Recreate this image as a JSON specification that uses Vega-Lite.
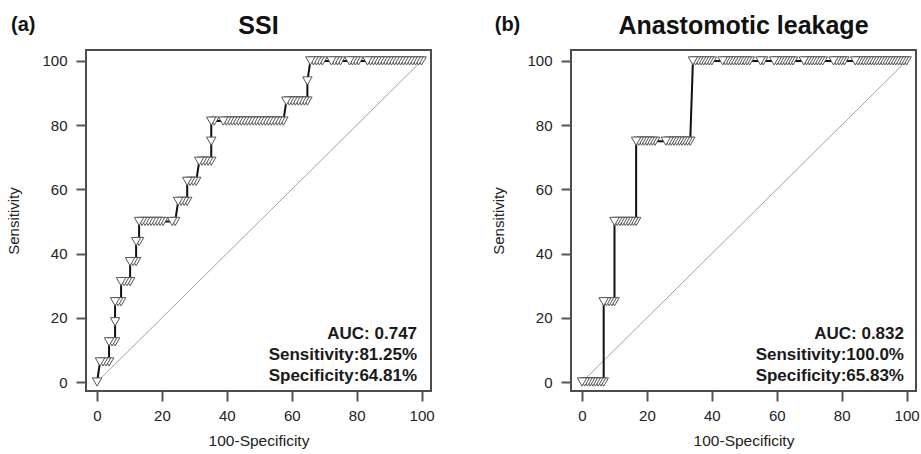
{
  "$schema": "https://vega.github.io/schema/vega-lite/v6.json",
  "padding": {"left": 5, "top": 12, "right": 4, "bottom": 4},
  "spacing": 140,
  "bounds": "flush",
  "config": {
    "font": "Liberation Sans",
    "view": {"stroke": "#4d4d4d", "strokeWidth": 2},
    "axis": {
      "domain": false, "grid": false, "tickColor": "#555555",
      "labelFont": "Liberation Sans", "labelFontSize": 15, "labelColor": "#222222",
      "titleFont": "Liberation Sans", "titleFontSize": 15, "titleFontWeight": "normal", "titleColor": "#222222",
      "labelOverlap": false, "labelFlush": false
    }
  },
  "datasets": {
    "ssi": [
      {"x":0,"y":0},
      {"x":0.93,"y":6.25},{"x":1.85,"y":6.25},{"x":2.78,"y":6.25},{"x":3.7,"y":6.25},
      {"x":3.7,"y":12.5},{"x":4.63,"y":12.5},{"x":5.56,"y":12.5},
      {"x":5.56,"y":18.75},
      {"x":5.56,"y":25},{"x":6.48,"y":25},{"x":7.41,"y":25},
      {"x":7.41,"y":31.25},{"x":8.33,"y":31.25},{"x":9.26,"y":31.25},{"x":10.19,"y":31.25},
      {"x":10.19,"y":37.5},{"x":11.11,"y":37.5},{"x":12.04,"y":37.5},
      {"x":12.04,"y":43.75},{"x":12.96,"y":43.75},
      {"x":12.96,"y":50},{"x":13.89,"y":50},{"x":14.81,"y":50},{"x":15.74,"y":50},{"x":16.67,"y":50},{"x":17.59,"y":50},{"x":18.52,"y":50},{"x":19.44,"y":50},{"x":20.37,"y":50},{"x":23.15,"y":50},{"x":24.07,"y":50},
      {"x":25,"y":56.25},{"x":25.93,"y":56.25},{"x":26.85,"y":56.25},{"x":27.78,"y":56.25},
      {"x":27.78,"y":62.5},{"x":28.7,"y":62.5},{"x":29.63,"y":62.5},{"x":30.56,"y":62.5},
      {"x":31.48,"y":68.75},{"x":32.41,"y":68.75},{"x":33.33,"y":68.75},{"x":34.26,"y":68.75},{"x":35.19,"y":68.75},
      {"x":35.19,"y":75},
      {"x":35.19,"y":81.25},{"x":36.11,"y":81.25},{"x":38.89,"y":81.25},{"x":39.81,"y":81.25},{"x":40.74,"y":81.25},{"x":41.67,"y":81.25},{"x":42.59,"y":81.25},{"x":43.52,"y":81.25},{"x":44.44,"y":81.25},{"x":45.37,"y":81.25},{"x":46.3,"y":81.25},{"x":47.22,"y":81.25},{"x":48.15,"y":81.25},{"x":49.07,"y":81.25},{"x":50,"y":81.25},{"x":50.93,"y":81.25},{"x":51.85,"y":81.25},{"x":52.78,"y":81.25},{"x":53.7,"y":81.25},{"x":54.63,"y":81.25},{"x":55.56,"y":81.25},{"x":56.48,"y":81.25},{"x":57.41,"y":81.25},
      {"x":58.33,"y":87.5},{"x":59.26,"y":87.5},{"x":60.19,"y":87.5},{"x":61.11,"y":87.5},{"x":62.04,"y":87.5},{"x":62.96,"y":87.5},{"x":63.89,"y":87.5},{"x":64.81,"y":87.5},
      {"x":64.81,"y":93.75},
      {"x":65.74,"y":100},{"x":66.67,"y":100},{"x":67.59,"y":100},{"x":68.52,"y":100},{"x":69.44,"y":100},{"x":72.22,"y":100},{"x":73.15,"y":100},{"x":74.07,"y":100},{"x":75,"y":100},{"x":77.78,"y":100},{"x":78.7,"y":100},{"x":79.63,"y":100},{"x":80.56,"y":100},{"x":83.33,"y":100},{"x":84.26,"y":100},{"x":85.19,"y":100},{"x":86.11,"y":100},{"x":87.04,"y":100},{"x":87.96,"y":100},{"x":88.89,"y":100},{"x":89.81,"y":100},{"x":90.74,"y":100},{"x":91.67,"y":100},{"x":92.59,"y":100},{"x":93.52,"y":100},{"x":94.44,"y":100},{"x":95.37,"y":100},{"x":96.3,"y":100},{"x":97.22,"y":100},{"x":98.15,"y":100},{"x":99.07,"y":100},{"x":100,"y":100}
    ],
    "al": [
      {"x":0,"y":0},{"x":0.83,"y":0},{"x":1.67,"y":0},{"x":2.5,"y":0},{"x":3.33,"y":0},{"x":4.17,"y":0},{"x":5,"y":0},{"x":5.83,"y":0},{"x":6.67,"y":0},
      {"x":6.67,"y":25},{"x":7.5,"y":25},{"x":8.33,"y":25},{"x":9.17,"y":25},{"x":10,"y":25},
      {"x":10,"y":50},{"x":10.83,"y":50},{"x":11.67,"y":50},{"x":12.5,"y":50},{"x":13.33,"y":50},{"x":14.17,"y":50},{"x":15,"y":50},{"x":15.83,"y":50},{"x":16.67,"y":50},
      {"x":16.67,"y":75},{"x":17.5,"y":75},{"x":18.33,"y":75},{"x":19.17,"y":75},{"x":20,"y":75},{"x":20.83,"y":75},{"x":21.67,"y":75},{"x":22.5,"y":75},{"x":25.83,"y":75},{"x":26.67,"y":75},{"x":27.5,"y":75},{"x":28.33,"y":75},{"x":29.17,"y":75},{"x":30,"y":75},{"x":30.83,"y":75},{"x":31.67,"y":75},{"x":32.5,"y":75},{"x":33.33,"y":75},
      {"x":34.17,"y":100},{"x":35,"y":100},{"x":35.83,"y":100},{"x":36.67,"y":100},{"x":37.5,"y":100},{"x":38.33,"y":100},{"x":39.17,"y":100},{"x":40,"y":100},
      {"x":43.33,"y":100},{"x":44.17,"y":100},{"x":45,"y":100},{"x":45.83,"y":100},{"x":46.67,"y":100},{"x":47.5,"y":100},{"x":48.33,"y":100},{"x":49.17,"y":100},{"x":50,"y":100},{"x":50.83,"y":100},{"x":51.67,"y":100},
      {"x":55,"y":100},{"x":55.83,"y":100},
      {"x":59.17,"y":100},{"x":60,"y":100},{"x":60.83,"y":100},{"x":61.67,"y":100},{"x":62.5,"y":100},{"x":63.33,"y":100},{"x":64.17,"y":100},{"x":65,"y":100},
      {"x":68.33,"y":100},{"x":69.17,"y":100},{"x":70,"y":100},{"x":70.83,"y":100},{"x":71.67,"y":100},{"x":72.5,"y":100},{"x":73.33,"y":100},{"x":74.17,"y":100},
      {"x":77.5,"y":100},{"x":78.33,"y":100},{"x":79.17,"y":100},{"x":80,"y":100},{"x":80.83,"y":100},
      {"x":84.17,"y":100},{"x":85,"y":100},{"x":85.83,"y":100},{"x":86.67,"y":100},{"x":87.5,"y":100},{"x":88.33,"y":100},{"x":89.17,"y":100},{"x":90,"y":100},{"x":90.83,"y":100},{"x":91.67,"y":100},{"x":92.5,"y":100},{"x":93.33,"y":100},{"x":94.17,"y":100},{"x":95,"y":100},{"x":95.83,"y":100},{"x":96.67,"y":100},{"x":97.5,"y":100},{"x":98.33,"y":100},{"x":99.17,"y":100},{"x":100,"y":100}
    ]
  },
  "hconcat": [
    {
      "width": 345, "height": 341,
      "layer": [
        {
          "data": {"values": [{}]},
          "mark": {"type": "rule", "color": "#8a8a8a", "strokeWidth": 0.8},
          "encoding": {"x": {"datum": 0, "type": "quantitative"}, "y": {"datum": 0, "type": "quantitative"}, "x2": {"datum": 100}, "y2": {"datum": 100}}
        },
        {
          "data": {"name": "ssi"},
          "mark": {"type": "line", "color": "#111111", "strokeWidth": 2},
          "encoding": {
            "x": {"field": "x", "type": "quantitative", "scale": {"domain": [-3.4, 102.9], "nice": false, "zero": false},
              "axis": {"title": "100-Specificity", "titleFontSize": 15.5, "values": [0,5,10,15,20,25,30,35,40,45,50,55,60,65,70,75,80,85,90,95,100],
                "labelExpr": "datum.value % 20 === 0 ? datum.label : ''",
                "tickSize": {"condition": {"test": "datum.value % 20 === 0", "value": 10}, "value": 5},
                "tickWidth": {"condition": {"test": "datum.value % 20 === 0", "value": 2}, "value": 1.5},
                "labelPadding": 7, "titlePadding": 10}},
            "y": {"field": "y", "type": "quantitative", "scale": {"domain": [-2.8, 103.4], "nice": false, "zero": false},
              "axis": {"title": "Sensitivity", "values": [0,5,10,15,20,25,30,35,40,45,50,55,60,65,70,75,80,85,90,95,100],
                "labelExpr": "datum.value % 20 === 0 ? datum.label : ''",
                "tickSize": {"condition": {"test": "datum.value % 20 === 0", "value": 10}, "value": 5},
                "tickWidth": {"condition": {"test": "datum.value % 20 === 0", "value": 2}, "value": 1.5},
                "labelPadding": 9, "titlePadding": 20}},
            "order": [{"field": "x"}, {"field": "y"}]
          }
        },
        {
          "data": {"name": "ssi"},
          "mark": {"type": "point", "shape": "triangle-down", "size": 90, "fill": "white", "fillOpacity": 1, "stroke": "#555555", "strokeWidth": 1, "opacity": 1},
          "encoding": {
            "x": {"field": "x", "type": "quantitative"},
            "y": {"field": "y", "type": "quantitative"},
            "order": {"field": "x", "sort": "descending"}
          }
        },
        {
          "data": {"values": [{}]},
          "mark": {"type": "text", "align": "right", "baseline": "alphabetic", "fontSize": 17, "fontWeight": "bold", "color": "#1a1a1a", "lineHeight": 21,
            "text": ["AUC: 0.747", "Sensitivity:81.25%", "Specificity:64.81%"]},
          "encoding": {"x": {"datum": 98.6, "type": "quantitative"}, "y": {"datum": 13.3, "type": "quantitative"}}
        },
        {
          "data": {"values": [{}]},
          "mark": {"type": "text", "align": "left", "baseline": "alphabetic", "fontSize": 20, "fontWeight": "bold", "color": "#111111", "text": "(a)"},
          "encoding": {"x": {"datum": -26.5, "type": "quantitative"}, "y": {"datum": 109.3, "type": "quantitative"}}
        },
        {
          "data": {"values": [{}]},
          "mark": {"type": "text", "align": "center", "baseline": "alphabetic", "fontSize": 25, "fontWeight": "bold", "color": "#111111", "text": "SSI"},
          "encoding": {"x": {"datum": 49.75, "type": "quantitative"}, "y": {"datum": 108.5, "type": "quantitative"}}
        }
      ]
    },
    {
      "width": 345, "height": 341,
      "layer": [
        {
          "data": {"values": [{}]},
          "mark": {"type": "rule", "color": "#8a8a8a", "strokeWidth": 0.8},
          "encoding": {"x": {"datum": 0, "type": "quantitative"}, "y": {"datum": 0, "type": "quantitative"}, "x2": {"datum": 100}, "y2": {"datum": 100}}
        },
        {
          "data": {"name": "al"},
          "mark": {"type": "line", "color": "#111111", "strokeWidth": 2},
          "encoding": {
            "x": {"field": "x", "type": "quantitative", "scale": {"domain": [-3.4, 102.9], "nice": false, "zero": false},
              "axis": {"title": "100-Specificity", "titleFontSize": 15.5, "values": [0,5,10,15,20,25,30,35,40,45,50,55,60,65,70,75,80,85,90,95,100],
                "labelExpr": "datum.value % 20 === 0 ? datum.label : ''",
                "tickSize": {"condition": {"test": "datum.value % 20 === 0", "value": 10}, "value": 5},
                "tickWidth": {"condition": {"test": "datum.value % 20 === 0", "value": 2}, "value": 1.5},
                "labelPadding": 7, "titlePadding": 10}},
            "y": {"field": "y", "type": "quantitative", "scale": {"domain": [-2.8, 103.4], "nice": false, "zero": false},
              "axis": {"title": "Sensitivity", "values": [0,5,10,15,20,25,30,35,40,45,50,55,60,65,70,75,80,85,90,95,100],
                "labelExpr": "datum.value % 20 === 0 ? datum.label : ''",
                "tickSize": {"condition": {"test": "datum.value % 20 === 0", "value": 10}, "value": 5},
                "tickWidth": {"condition": {"test": "datum.value % 20 === 0", "value": 2}, "value": 1.5},
                "labelPadding": 9, "titlePadding": 20}},
            "order": [{"field": "x"}, {"field": "y"}]
          }
        },
        {
          "data": {"name": "al"},
          "mark": {"type": "point", "shape": "triangle-down", "size": 90, "fill": "white", "fillOpacity": 1, "stroke": "#555555", "strokeWidth": 1, "opacity": 1},
          "encoding": {
            "x": {"field": "x", "type": "quantitative"},
            "y": {"field": "y", "type": "quantitative"},
            "order": {"field": "x", "sort": "descending"}
          }
        },
        {
          "data": {"values": [{}]},
          "mark": {"type": "text", "align": "right", "baseline": "alphabetic", "fontSize": 17, "fontWeight": "bold", "color": "#1a1a1a", "lineHeight": 21,
            "text": ["AUC: 0.832", "Sensitivity:100.0%", "Specificity:65.83%"]},
          "encoding": {"x": {"datum": 99.2, "type": "quantitative"}, "y": {"datum": 13.3, "type": "quantitative"}}
        },
        {
          "data": {"values": [{}]},
          "mark": {"type": "text", "align": "left", "baseline": "alphabetic", "fontSize": 20, "fontWeight": "bold", "color": "#111111", "text": "(b)"},
          "encoding": {"x": {"datum": -26.9, "type": "quantitative"}, "y": {"datum": 109.3, "type": "quantitative"}}
        },
        {
          "data": {"values": [{}]},
          "mark": {"type": "text", "align": "center", "baseline": "alphabetic", "fontSize": 25, "fontWeight": "bold", "color": "#111111", "text": "Anastomotic leakage"},
          "encoding": {"x": {"datum": 49.75, "type": "quantitative"}, "y": {"datum": 108.5, "type": "quantitative"}}
        }
      ]
    }
  ]
}
